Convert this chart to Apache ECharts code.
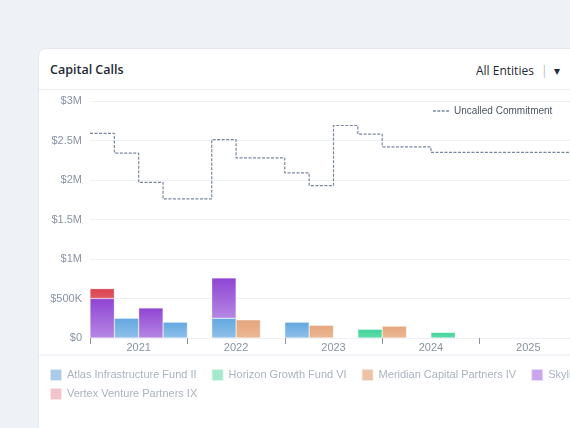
<!DOCTYPE html>
<html><head><meta charset="utf-8">
<script src="https://cdn.jsdelivr.net/npm/echarts@6/dist/echarts.min.js"></script>
<style>
html,body{margin:0;width:570px;height:428px;overflow:hidden;background:#eef2f7;font-family:"Segoe UI","Open Sans","Noto Sans",sans-serif;}
#card{position:absolute;left:38px;top:48px;width:600px;height:400px;background:#fff;border:1px solid #e3e7ee;border-radius:8px;}
#hdr{position:absolute;left:0;top:0;width:532px;height:40px;border-bottom:1px solid #e8ebf0;}
#title{position:absolute;left:11px;top:12px;font-size:12.5px;font-weight:600;color:#1f2937;}
#sel{position:absolute;left:437px;top:13px;font-size:12px;color:#1f2937;}
#sel span{color:#b8bfca;margin:0 6px 0 4px;}
#chart{position:absolute;left:-1px;top:40px;width:600px;height:350px;}
</style></head><body>
<div id="card"><div id="hdr"><div id="title">Capital Calls</div><div id="sel">All Entities <span>|</span>▾</div></div><div id="chart"></div></div>
<script>
const quarters=[];for(let y=2021;y<=2025;y++)for(let q=1;q<=4;q++)quarters.push(y+' Q'+q);
const years=['2021','2022','2023','2024','2025'];
const atlas  =[0,0.25,0,0.20, 0,0.25,0,0, 0.20,0,0,0, 0,0,0,0, 0,0,0,0];
const horizon=[0,0,0,0, 0,0,0,0, 0,0,0,0.11, 0,0,0.07,0, 0,0,0,0];
const meridian=[0,0,0,0, 0,0,0.23,0, 0,0.16,0,0, 0.15,0,0,0, 0,0,0,0];
const skyline=[0.50,0,0.38,0, 0,0.51,0,0, 0,0,0,0, 0,0,0,0, 0,0,0,0];
const vertex =[0.125,0,0,0, 0,0,0,0, 0,0,0,0, 0,0,0,0, 0,0,0,0];
const uncalled=[2.59,2.34,1.97,1.76, 1.76,2.51,2.28,2.28, 2.09,1.93,2.69,2.58, 2.42,2.42,2.35,2.35, 2.35,2.35,2.35,2.35,2.35];
const names=['Atlas Infrastructure Fund II','Horizon Growth Fund VI','Meridian Capital Partners IV','Skyline Real Estate Fund III','Vertex Venture Partners IX'];
const vals=[atlas,horizon,meridian,skyline,vertex];
const cols=[['#62a8e0','#8fc0ea'],['#3fd39a','#5fdcaa'],['#e4a57c','#ebb894'],['#8f44d2','#b587e4'],['#d9434f','#e05a64']];
const legCols=['#a9cbe9','#a6e8cc','#ecc3a6','#c9a6ec','#f2c3cb'];
const M=v=>v*1e6;
const series=names.map((n,i)=>({name:n,type:'bar',stack:'a',xAxisIndex:0,barCategoryGap:'0%',
  data:vals[i].map(v=>v?M(v):'-'),
  itemStyle:{color:new echarts.graphic.LinearGradient(0,0,0,1,[{offset:0,color:cols[i][0]},{offset:1,color:cols[i][1]}]),borderColor:'rgba(255,255,255,0.6)',borderWidth:0.5}}));
series.push({name:'Uncalled Commitment',type:'line',xAxisIndex:2,step:'end',symbol:'none',
  data:uncalled.map((v,i)=>[i,M(v)]),lineStyle:{color:'#7a86a0',width:1.2,type:[3,1.5]},itemStyle:{color:'#7a86a0'}});
const chart=echarts.init(document.getElementById('chart'));
const lt={color:'#aab3c0',fontSize:11};
chart.setOption({
  animation:false,
  grid:{left:52,top:12,width:487,height:237},
  graphic:[{type:'line',shape:{x1:0,y1:266,x2:600,y2:266},style:{stroke:'#e6e9ef',lineWidth:1}}],
  legend:[
    {data:[{name:'Uncalled Commitment',icon:'path://M0,0H2V1H0ZM3,0H5V1H3ZM6,0H8V1H6ZM9,0H11V1H9Z'}],top:12,left:390,itemWidth:16,itemHeight:2,itemGap:4,textStyle:{color:'#4b5563',fontSize:10}},
    {data:names.slice(0,4).map((n,i)=>({name:n,itemStyle:{color:legCols[i]}})),top:274,left:6,width:900,icon:'rect',itemWidth:12,itemHeight:12,itemGap:14,textStyle:lt,selectedMode:false},
    {data:[{name:names[4],itemStyle:{color:legCols[4]}}],top:293,left:6,icon:'rect',itemWidth:12,itemHeight:12,textStyle:lt,selectedMode:false}
  ],
  xAxis:[
    {type:'category',data:quarters,show:false,boundaryGap:true},
    {type:'category',data:years,position:'bottom',axisLine:{show:false},axisTick:{show:true,length:6,lineStyle:{color:'#8a93a3'}},axisLabel:{color:'#8a93a3',fontSize:11,margin:4}},
    {type:'value',min:0,max:20,show:false}
  ],
  yAxis:{type:'value',min:0,max:3e6,interval:5e5,splitLine:{lineStyle:{color:'#eef0f4'}},axisLine:{show:false},axisTick:{show:false},
    axisLabel:{color:'#8a93a3',fontSize:11,formatter:v=>v===0?'$0':v<1e6?'$'+v/1000+'K':'$'+v/1e6+'M'}},
  series
});
</script></body></html>
